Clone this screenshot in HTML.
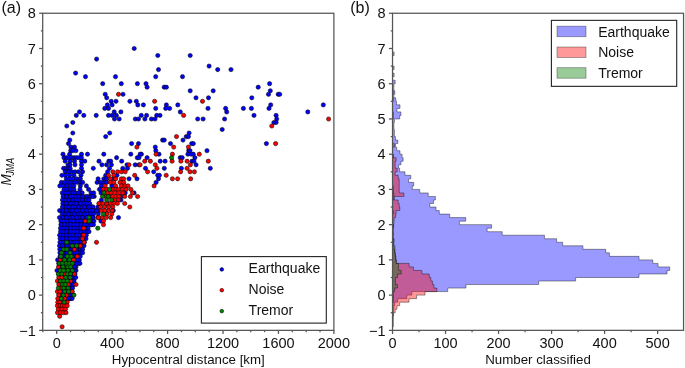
<!DOCTYPE html><html><head><meta charset="utf-8"><style>html,body{margin:0;padding:0;background:#fff;}svg{display:block;will-change:transform;}</style></head><body><svg width="685" height="368" viewBox="0 0 685 368"><rect width="685" height="368" fill="#fff"/><svg x="42.7" y="13.25" width="291.18" height="317.1" viewBox="42.7 13.25 291.18 317.1" overflow="hidden"><g fill="#000010"><rect x="62.3" y="191.04" width="20.0" height="3.8"/><rect x="63.1" y="194.56" width="29.5" height="3.8"/><rect x="62.4" y="198.09" width="26.6" height="3.8"/><rect x="62.8" y="201.61" width="26.9" height="3.8"/><rect x="62.4" y="205.13" width="30.6" height="3.8"/><rect x="59.6" y="208.66" width="37.3" height="3.8"/><rect x="62.1" y="212.18" width="31.4" height="3.8"/><rect x="59.5" y="215.70" width="33.1" height="3.8"/><rect x="60.8" y="219.23" width="33.2" height="3.8"/><rect x="60.9" y="222.75" width="30.1" height="3.8"/><rect x="60.5" y="226.27" width="27.5" height="3.8"/><rect x="60.5" y="229.80" width="28.5" height="3.8"/><rect x="59.6" y="233.32" width="26.7" height="3.8"/><rect x="60.1" y="236.84" width="25.9" height="3.8"/><rect x="60.0" y="240.37" width="24.3" height="3.8"/><rect x="59.5" y="243.89" width="24.5" height="3.8"/><rect x="59.8" y="247.41" width="22.8" height="3.8"/><rect x="59.9" y="250.94" width="22.7" height="3.8"/><rect x="60.0" y="254.46" width="20.2" height="3.8"/><rect x="59.3" y="257.98" width="20.0" height="3.8"/><rect x="58.8" y="261.51" width="20.2" height="3.8"/><rect x="59.2" y="265.03" width="16.8" height="3.8"/><rect x="59.9" y="268.55" width="16.1" height="3.8"/><rect x="58.8" y="272.08" width="16.2" height="3.8"/><rect x="59.6" y="275.60" width="16.2" height="3.8"/><rect x="59.0" y="279.12" width="15.0" height="3.8"/><rect x="59.7" y="282.65" width="14.2" height="3.8"/><rect x="60.0" y="286.17" width="12.0" height="3.8"/><rect x="59.9" y="289.69" width="12.1" height="3.8"/><rect x="59.0" y="293.22" width="14.3" height="3.8"/><rect x="59.4" y="296.74" width="11.6" height="3.8"/><rect x="59.4" y="300.26" width="6.9" height="3.8"/><rect x="59.7" y="303.79" width="6.3" height="3.8"/><rect x="59.4" y="307.31" width="2.6" height="3.8"/></g><g fill="#0000ff" stroke="#000" stroke-width="0.55"><circle cx="134.2" cy="48.5" r="2.12"/><circle cx="157.8" cy="55.5" r="2.12"/><circle cx="96.6" cy="59.1" r="2.12"/><circle cx="158.5" cy="69.6" r="2.12"/><circle cx="75.6" cy="73.1" r="2.12"/><circle cx="85.5" cy="76.7" r="2.12"/><circle cx="115.5" cy="76.7" r="2.12"/><circle cx="155.7" cy="76.7" r="2.12"/><circle cx="182.5" cy="76.7" r="2.12"/><circle cx="102.7" cy="83.7" r="2.12"/><circle cx="121.3" cy="83.7" r="2.12"/><circle cx="137.4" cy="83.7" r="2.12"/><circle cx="146.0" cy="83.7" r="2.12"/><circle cx="147.1" cy="87.2" r="2.12"/><circle cx="164.2" cy="87.2" r="2.12"/><circle cx="166.4" cy="87.2" r="2.12"/><circle cx="190.2" cy="55.5" r="2.12"/><circle cx="209.1" cy="66.1" r="2.12"/><circle cx="217.7" cy="69.6" r="2.12"/><circle cx="231.0" cy="69.6" r="2.12"/><circle cx="258.2" cy="87.2" r="2.12"/><circle cx="269.6" cy="83.7" r="2.12"/><circle cx="270.3" cy="90.8" r="2.12"/><circle cx="190.2" cy="90.8" r="2.12"/><circle cx="213.2" cy="90.8" r="2.12"/><circle cx="105.2" cy="94.3" r="2.12"/><circle cx="123.0" cy="94.3" r="2.12"/><circle cx="106.7" cy="97.8" r="2.12"/><circle cx="111.2" cy="101.3" r="2.12"/><circle cx="116.0" cy="101.3" r="2.12"/><circle cx="107.4" cy="104.9" r="2.12"/><circle cx="112.1" cy="104.9" r="2.12"/><circle cx="129.9" cy="101.3" r="2.12"/><circle cx="136.3" cy="101.3" r="2.12"/><circle cx="137.8" cy="104.9" r="2.12"/><circle cx="143.4" cy="104.9" r="2.12"/><circle cx="155.7" cy="108.4" r="2.12"/><circle cx="166.4" cy="104.9" r="2.12"/><circle cx="165.7" cy="108.4" r="2.12"/><circle cx="169.6" cy="108.4" r="2.12"/><circle cx="177.8" cy="104.9" r="2.12"/><circle cx="104.8" cy="108.4" r="2.12"/><circle cx="108.5" cy="108.4" r="2.12"/><circle cx="114.2" cy="111.9" r="2.12"/><circle cx="120.9" cy="111.9" r="2.12"/><circle cx="108.5" cy="115.4" r="2.12"/><circle cx="112.1" cy="115.4" r="2.12"/><circle cx="116.4" cy="115.4" r="2.12"/><circle cx="114.5" cy="119.0" r="2.12"/><circle cx="119.2" cy="119.0" r="2.12"/><circle cx="135.3" cy="119.0" r="2.12"/><circle cx="138.5" cy="119.0" r="2.12"/><circle cx="141.3" cy="115.4" r="2.12"/><circle cx="144.9" cy="119.0" r="2.12"/><circle cx="146.6" cy="115.4" r="2.12"/><circle cx="151.4" cy="119.0" r="2.12"/><circle cx="155.0" cy="119.0" r="2.12"/><circle cx="156.7" cy="115.4" r="2.12"/><circle cx="160.0" cy="115.4" r="2.12"/><circle cx="180.3" cy="111.9" r="2.12"/><circle cx="79.5" cy="111.9" r="2.12"/><circle cx="76.3" cy="115.4" r="2.12"/><circle cx="83.8" cy="115.4" r="2.12"/><circle cx="96.2" cy="115.4" r="2.12"/><circle cx="196.0" cy="97.8" r="2.12"/><circle cx="208.5" cy="97.8" r="2.12"/><circle cx="208.0" cy="108.4" r="2.12"/><circle cx="225.6" cy="108.4" r="2.12"/><circle cx="226.7" cy="111.9" r="2.12"/><circle cx="243.4" cy="108.4" r="2.12"/><circle cx="251.4" cy="108.4" r="2.12"/><circle cx="251.8" cy="97.8" r="2.12"/><circle cx="254.0" cy="115.4" r="2.12"/><circle cx="197.7" cy="119.0" r="2.12"/><circle cx="203.1" cy="119.0" r="2.12"/><circle cx="224.6" cy="119.0" r="2.12"/><circle cx="268.5" cy="94.3" r="2.12"/><circle cx="278.2" cy="94.3" r="2.12"/><circle cx="279.7" cy="94.3" r="2.12"/><circle cx="270.7" cy="104.9" r="2.12"/><circle cx="269.0" cy="108.4" r="2.12"/><circle cx="276.1" cy="115.4" r="2.12"/><circle cx="276.7" cy="119.0" r="2.12"/><circle cx="273.9" cy="122.5" r="2.12"/><circle cx="276.1" cy="122.5" r="2.12"/><circle cx="307.8" cy="111.9" r="2.12"/><circle cx="323.3" cy="104.9" r="2.12"/><circle cx="266.4" cy="143.6" r="2.12"/><circle cx="109.7" cy="133.0" r="2.12"/><circle cx="105.7" cy="136.6" r="2.12"/><circle cx="103.8" cy="154.2" r="2.12"/><circle cx="116.6" cy="157.7" r="2.12"/><circle cx="222.2" cy="129.5" r="2.12"/><circle cx="189.1" cy="133.0" r="2.12"/><circle cx="186.3" cy="136.6" r="2.12"/><circle cx="188.4" cy="136.6" r="2.12"/><circle cx="183.0" cy="140.1" r="2.12"/><circle cx="162.6" cy="140.1" r="2.12"/><circle cx="164.3" cy="140.1" r="2.12"/><circle cx="170.5" cy="143.6" r="2.12"/><circle cx="191.7" cy="143.6" r="2.12"/><circle cx="193.3" cy="143.6" r="2.12"/><circle cx="131.6" cy="143.6" r="2.12"/><circle cx="138.5" cy="143.6" r="2.12"/><circle cx="155.3" cy="147.1" r="2.12"/><circle cx="155.8" cy="150.7" r="2.12"/><circle cx="188.7" cy="150.7" r="2.12"/><circle cx="207.0" cy="150.7" r="2.12"/><circle cx="141.4" cy="154.2" r="2.12"/><circle cx="137.3" cy="157.7" r="2.12"/><circle cx="147.1" cy="157.7" r="2.12"/><circle cx="187.9" cy="154.2" r="2.12"/><circle cx="191.2" cy="154.2" r="2.12"/><circle cx="193.3" cy="154.2" r="2.12"/><circle cx="194.9" cy="157.7" r="2.12"/><circle cx="180.2" cy="157.7" r="2.12"/><circle cx="182.2" cy="157.7" r="2.12"/><circle cx="130.8" cy="154.2" r="2.12"/><circle cx="160.2" cy="161.2" r="2.12"/><circle cx="165.1" cy="161.2" r="2.12"/><circle cx="196.1" cy="164.8" r="2.12"/><circle cx="145.5" cy="168.3" r="2.12"/><circle cx="164.3" cy="168.3" r="2.12"/><circle cx="181.4" cy="168.3" r="2.12"/><circle cx="210.3" cy="168.3" r="2.12"/><circle cx="153.7" cy="171.8" r="2.12"/><circle cx="157.7" cy="175.3" r="2.12"/><circle cx="158.5" cy="178.8" r="2.12"/><circle cx="192.0" cy="161.2" r="2.12"/><circle cx="159.0" cy="154.2" r="2.12"/><circle cx="140.1" cy="154.2" r="2.12"/><circle cx="139.0" cy="157.7" r="2.12"/><circle cx="159.4" cy="175.3" r="2.12"/><circle cx="190.0" cy="150.7" r="2.12"/><circle cx="193.9" cy="161.2" r="2.12"/><circle cx="156.1" cy="182.4" r="2.12"/><circle cx="134.1" cy="192.9" r="2.12"/><circle cx="99.0" cy="161.2" r="2.12"/><circle cx="108.8" cy="161.2" r="2.12"/><circle cx="110.7" cy="161.2" r="2.12"/><circle cx="121.7" cy="161.2" r="2.12"/><circle cx="101.9" cy="164.8" r="2.12"/><circle cx="106.6" cy="164.8" r="2.12"/><circle cx="111.4" cy="164.8" r="2.12"/><circle cx="127.0" cy="164.8" r="2.12"/><circle cx="135.2" cy="164.8" r="2.12"/><circle cx="139.0" cy="164.8" r="2.12"/><circle cx="93.3" cy="168.3" r="2.12"/><circle cx="109.5" cy="168.3" r="2.12"/><circle cx="122.8" cy="168.3" r="2.12"/><circle cx="127.5" cy="168.3" r="2.12"/><circle cx="107.6" cy="171.8" r="2.12"/><circle cx="105.7" cy="175.3" r="2.12"/><circle cx="117.0" cy="175.3" r="2.12"/><circle cx="98.1" cy="178.8" r="2.12"/><circle cx="103.8" cy="178.8" r="2.12"/><circle cx="106.6" cy="178.8" r="2.12"/><circle cx="113.8" cy="178.8" r="2.12"/><circle cx="129.0" cy="178.8" r="2.12"/><circle cx="137.0" cy="178.8" r="2.12"/><circle cx="97.1" cy="182.4" r="2.12"/><circle cx="100.5" cy="182.4" r="2.12"/><circle cx="103.8" cy="182.4" r="2.12"/><circle cx="106.6" cy="182.4" r="2.12"/><circle cx="101.4" cy="185.9" r="2.12"/><circle cx="111.9" cy="185.9" r="2.12"/><circle cx="99.5" cy="189.4" r="2.12"/><circle cx="101.0" cy="189.4" r="2.12"/><circle cx="91.0" cy="192.9" r="2.12"/><circle cx="93.7" cy="192.9" r="2.12"/><circle cx="101.0" cy="192.9" r="2.12"/><circle cx="125.2" cy="192.9" r="2.12"/><circle cx="94.2" cy="196.5" r="2.12"/><circle cx="121.0" cy="196.5" r="2.12"/><circle cx="101.4" cy="200.0" r="2.12"/><circle cx="121.0" cy="200.0" r="2.12"/><circle cx="89.0" cy="203.5" r="2.12"/><circle cx="107.6" cy="203.5" r="2.12"/><circle cx="89.5" cy="207.0" r="2.12"/><circle cx="92.6" cy="207.0" r="2.12"/><circle cx="95.7" cy="210.6" r="2.12"/><circle cx="98.3" cy="210.6" r="2.12"/><circle cx="113.3" cy="210.6" r="2.12"/><circle cx="93.2" cy="214.1" r="2.12"/><circle cx="98.3" cy="214.1" r="2.12"/><circle cx="93.2" cy="217.6" r="2.12"/><circle cx="118.5" cy="217.6" r="2.12"/><circle cx="100.9" cy="221.1" r="2.12"/><circle cx="72.8" cy="122.5" r="2.12"/><circle cx="66.8" cy="126.0" r="2.12"/><circle cx="72.8" cy="133.0" r="2.12"/><circle cx="69.8" cy="140.1" r="2.12"/><circle cx="68.5" cy="143.6" r="2.12"/><circle cx="70.9" cy="147.1" r="2.12"/><circle cx="74.5" cy="147.1" r="2.12"/><circle cx="70.7" cy="150.7" r="2.12"/><circle cx="72.8" cy="150.7" r="2.12"/><circle cx="75.9" cy="150.7" r="2.12"/><circle cx="63.0" cy="154.2" r="2.12"/><circle cx="69.6" cy="154.2" r="2.12"/><circle cx="81.5" cy="154.2" r="2.12"/><circle cx="87.5" cy="154.2" r="2.12"/><circle cx="64.0" cy="157.7" r="2.12"/><circle cx="66.5" cy="157.7" r="2.12"/><circle cx="69.0" cy="157.7" r="2.12"/><circle cx="71.5" cy="157.7" r="2.12"/><circle cx="74.0" cy="157.7" r="2.12"/><circle cx="76.5" cy="157.7" r="2.12"/><circle cx="79.0" cy="157.7" r="2.12"/><circle cx="81.5" cy="157.7" r="2.12"/><circle cx="65.2" cy="161.2" r="2.12"/><circle cx="70.1" cy="161.2" r="2.12"/><circle cx="74.5" cy="161.2" r="2.12"/><circle cx="81.5" cy="161.2" r="2.12"/><circle cx="84.8" cy="161.2" r="2.12"/><circle cx="68.0" cy="164.8" r="2.12"/><circle cx="70.0" cy="164.8" r="2.12"/><circle cx="75.0" cy="164.8" r="2.12"/><circle cx="81.5" cy="164.8" r="2.12"/><circle cx="63.6" cy="168.3" r="2.12"/><circle cx="66.0" cy="168.3" r="2.12"/><circle cx="68.5" cy="168.3" r="2.12"/><circle cx="70.1" cy="168.3" r="2.12"/><circle cx="81.5" cy="168.3" r="2.12"/><circle cx="65.2" cy="171.8" r="2.12"/><circle cx="68.5" cy="171.8" r="2.12"/><circle cx="71.8" cy="171.8" r="2.12"/><circle cx="75.0" cy="171.8" r="2.12"/><circle cx="78.5" cy="171.8" r="2.12"/><circle cx="82.6" cy="171.8" r="2.12"/><circle cx="62.0" cy="175.3" r="2.12"/><circle cx="65.5" cy="175.3" r="2.12"/><circle cx="69.6" cy="175.3" r="2.12"/><circle cx="73.9" cy="175.3" r="2.12"/><circle cx="81.0" cy="175.3" r="2.12"/><circle cx="66.3" cy="178.8" r="2.12"/><circle cx="69.8" cy="178.8" r="2.12"/><circle cx="73.3" cy="178.8" r="2.12"/><circle cx="76.8" cy="178.8" r="2.12"/><circle cx="80.4" cy="178.8" r="2.12"/><circle cx="61.4" cy="182.4" r="2.12"/><circle cx="64.6" cy="182.4" r="2.12"/><circle cx="67.8" cy="182.4" r="2.12"/><circle cx="71.0" cy="182.4" r="2.12"/><circle cx="74.2" cy="182.4" r="2.12"/><circle cx="77.4" cy="182.4" r="2.12"/><circle cx="80.6" cy="182.4" r="2.12"/><circle cx="82.6" cy="182.4" r="2.12"/><circle cx="59.8" cy="185.9" r="2.12"/><circle cx="63.3" cy="185.9" r="2.12"/><circle cx="66.8" cy="185.9" r="2.12"/><circle cx="70.4" cy="185.9" r="2.12"/><circle cx="73.9" cy="185.9" r="2.12"/><circle cx="80.4" cy="185.9" r="2.12"/><circle cx="86.4" cy="185.9" r="2.12"/><circle cx="64.0" cy="189.4" r="2.12"/><circle cx="67.3" cy="189.4" r="2.12"/><circle cx="70.6" cy="189.4" r="2.12"/><circle cx="74.0" cy="189.4" r="2.12"/><circle cx="80.0" cy="189.4" r="2.12"/><circle cx="88.6" cy="189.4" r="2.12"/><circle cx="62.3" cy="192.9" r="2.12"/><circle cx="65.7" cy="192.9" r="2.12"/><circle cx="69.4" cy="192.9" r="2.12"/><circle cx="72.6" cy="192.9" r="2.12"/><circle cx="75.5" cy="192.9" r="2.12"/><circle cx="78.3" cy="192.9" r="2.12"/><circle cx="82.2" cy="192.9" r="2.12"/><circle cx="63.1" cy="196.5" r="2.12"/><circle cx="66.8" cy="196.5" r="2.12"/><circle cx="70.4" cy="196.5" r="2.12"/><circle cx="73.4" cy="196.5" r="2.12"/><circle cx="76.0" cy="196.5" r="2.12"/><circle cx="79.3" cy="196.5" r="2.12"/><circle cx="82.8" cy="196.5" r="2.12"/><circle cx="86.6" cy="196.5" r="2.12"/><circle cx="89.9" cy="196.5" r="2.12"/><circle cx="92.5" cy="196.5" r="2.12"/><circle cx="62.4" cy="200.0" r="2.12"/><circle cx="65.8" cy="200.0" r="2.12"/><circle cx="68.9" cy="200.0" r="2.12"/><circle cx="72.9" cy="200.0" r="2.12"/><circle cx="75.9" cy="200.0" r="2.12"/><circle cx="79.6" cy="200.0" r="2.12"/><circle cx="82.7" cy="200.0" r="2.12"/><circle cx="86.4" cy="200.0" r="2.12"/><circle cx="89.0" cy="200.0" r="2.12"/><circle cx="62.8" cy="203.5" r="2.12"/><circle cx="66.1" cy="203.5" r="2.12"/><circle cx="70.2" cy="203.5" r="2.12"/><circle cx="73.8" cy="203.5" r="2.12"/><circle cx="76.9" cy="203.5" r="2.12"/><circle cx="80.3" cy="203.5" r="2.12"/><circle cx="83.9" cy="203.5" r="2.12"/><circle cx="87.3" cy="203.5" r="2.12"/><circle cx="89.7" cy="203.5" r="2.12"/><circle cx="62.4" cy="207.0" r="2.12"/><circle cx="66.2" cy="207.0" r="2.12"/><circle cx="69.3" cy="207.0" r="2.12"/><circle cx="72.9" cy="207.0" r="2.12"/><circle cx="75.7" cy="207.0" r="2.12"/><circle cx="78.6" cy="207.0" r="2.12"/><circle cx="82.1" cy="207.0" r="2.12"/><circle cx="84.8" cy="207.0" r="2.12"/><circle cx="88.6" cy="207.0" r="2.12"/><circle cx="91.4" cy="207.0" r="2.12"/><circle cx="93.0" cy="207.0" r="2.12"/><circle cx="59.6" cy="210.6" r="2.12"/><circle cx="62.8" cy="210.6" r="2.12"/><circle cx="66.2" cy="210.6" r="2.12"/><circle cx="70.4" cy="210.6" r="2.12"/><circle cx="72.9" cy="210.6" r="2.12"/><circle cx="76.1" cy="210.6" r="2.12"/><circle cx="79.8" cy="210.6" r="2.12"/><circle cx="82.5" cy="210.6" r="2.12"/><circle cx="86.2" cy="210.6" r="2.12"/><circle cx="90.1" cy="210.6" r="2.12"/><circle cx="93.3" cy="210.6" r="2.12"/><circle cx="96.8" cy="210.6" r="2.12"/><circle cx="62.1" cy="214.1" r="2.12"/><circle cx="65.9" cy="214.1" r="2.12"/><circle cx="68.9" cy="214.1" r="2.12"/><circle cx="72.1" cy="214.1" r="2.12"/><circle cx="74.7" cy="214.1" r="2.12"/><circle cx="78.0" cy="214.1" r="2.12"/><circle cx="81.1" cy="214.1" r="2.12"/><circle cx="84.2" cy="214.1" r="2.12"/><circle cx="87.5" cy="214.1" r="2.12"/><circle cx="90.9" cy="214.1" r="2.12"/><circle cx="93.5" cy="214.1" r="2.12"/><circle cx="59.5" cy="217.6" r="2.12"/><circle cx="62.9" cy="217.6" r="2.12"/><circle cx="66.4" cy="217.6" r="2.12"/><circle cx="69.9" cy="217.6" r="2.12"/><circle cx="72.9" cy="217.6" r="2.12"/><circle cx="76.2" cy="217.6" r="2.12"/><circle cx="79.8" cy="217.6" r="2.12"/><circle cx="82.3" cy="217.6" r="2.12"/><circle cx="86.5" cy="217.6" r="2.12"/><circle cx="89.6" cy="217.6" r="2.12"/><circle cx="92.6" cy="217.6" r="2.12"/><circle cx="60.8" cy="221.1" r="2.12"/><circle cx="63.8" cy="221.1" r="2.12"/><circle cx="67.3" cy="221.1" r="2.12"/><circle cx="70.7" cy="221.1" r="2.12"/><circle cx="73.5" cy="221.1" r="2.12"/><circle cx="77.8" cy="221.1" r="2.12"/><circle cx="81.3" cy="221.1" r="2.12"/><circle cx="84.9" cy="221.1" r="2.12"/><circle cx="87.9" cy="221.1" r="2.12"/><circle cx="90.8" cy="221.1" r="2.12"/><circle cx="94.0" cy="221.1" r="2.12"/><circle cx="60.9" cy="224.7" r="2.12"/><circle cx="64.3" cy="224.7" r="2.12"/><circle cx="68.1" cy="224.7" r="2.12"/><circle cx="70.8" cy="224.7" r="2.12"/><circle cx="73.9" cy="224.7" r="2.12"/><circle cx="77.4" cy="224.7" r="2.12"/><circle cx="81.3" cy="224.7" r="2.12"/><circle cx="84.6" cy="224.7" r="2.12"/><circle cx="87.8" cy="224.7" r="2.12"/><circle cx="91.0" cy="224.7" r="2.12"/><circle cx="60.5" cy="228.2" r="2.12"/><circle cx="63.8" cy="228.2" r="2.12"/><circle cx="67.2" cy="228.2" r="2.12"/><circle cx="70.5" cy="228.2" r="2.12"/><circle cx="73.9" cy="228.2" r="2.12"/><circle cx="77.7" cy="228.2" r="2.12"/><circle cx="80.7" cy="228.2" r="2.12"/><circle cx="83.7" cy="228.2" r="2.12"/><circle cx="88.0" cy="228.2" r="2.12"/><circle cx="60.5" cy="231.7" r="2.12"/><circle cx="63.6" cy="231.7" r="2.12"/><circle cx="66.8" cy="231.7" r="2.12"/><circle cx="70.5" cy="231.7" r="2.12"/><circle cx="73.7" cy="231.7" r="2.12"/><circle cx="77.4" cy="231.7" r="2.12"/><circle cx="81.4" cy="231.7" r="2.12"/><circle cx="84.1" cy="231.7" r="2.12"/><circle cx="87.3" cy="231.7" r="2.12"/><circle cx="89.0" cy="231.7" r="2.12"/><circle cx="59.6" cy="235.2" r="2.12"/><circle cx="63.1" cy="235.2" r="2.12"/><circle cx="66.1" cy="235.2" r="2.12"/><circle cx="69.9" cy="235.2" r="2.12"/><circle cx="73.2" cy="235.2" r="2.12"/><circle cx="76.3" cy="235.2" r="2.12"/><circle cx="79.3" cy="235.2" r="2.12"/><circle cx="82.8" cy="235.2" r="2.12"/><circle cx="86.3" cy="235.2" r="2.12"/><circle cx="60.1" cy="238.7" r="2.12"/><circle cx="63.2" cy="238.7" r="2.12"/><circle cx="66.8" cy="238.7" r="2.12"/><circle cx="70.1" cy="238.7" r="2.12"/><circle cx="73.6" cy="238.7" r="2.12"/><circle cx="77.3" cy="238.7" r="2.12"/><circle cx="80.5" cy="238.7" r="2.12"/><circle cx="84.4" cy="238.7" r="2.12"/><circle cx="86.0" cy="238.7" r="2.12"/><circle cx="60.0" cy="242.3" r="2.12"/><circle cx="63.6" cy="242.3" r="2.12"/><circle cx="66.8" cy="242.3" r="2.12"/><circle cx="70.5" cy="242.3" r="2.12"/><circle cx="74.0" cy="242.3" r="2.12"/><circle cx="77.3" cy="242.3" r="2.12"/><circle cx="81.3" cy="242.3" r="2.12"/><circle cx="84.3" cy="242.3" r="2.12"/><circle cx="59.5" cy="245.8" r="2.12"/><circle cx="62.7" cy="245.8" r="2.12"/><circle cx="66.8" cy="245.8" r="2.12"/><circle cx="70.0" cy="245.8" r="2.12"/><circle cx="74.0" cy="245.8" r="2.12"/><circle cx="77.3" cy="245.8" r="2.12"/><circle cx="80.5" cy="245.8" r="2.12"/><circle cx="84.0" cy="245.8" r="2.12"/><circle cx="59.8" cy="249.3" r="2.12"/><circle cx="63.9" cy="249.3" r="2.12"/><circle cx="66.7" cy="249.3" r="2.12"/><circle cx="70.0" cy="249.3" r="2.12"/><circle cx="73.2" cy="249.3" r="2.12"/><circle cx="76.5" cy="249.3" r="2.12"/><circle cx="80.3" cy="249.3" r="2.12"/><circle cx="82.6" cy="249.3" r="2.12"/><circle cx="59.9" cy="252.8" r="2.12"/><circle cx="62.8" cy="252.8" r="2.12"/><circle cx="67.2" cy="252.8" r="2.12"/><circle cx="70.4" cy="252.8" r="2.12"/><circle cx="73.6" cy="252.8" r="2.12"/><circle cx="77.4" cy="252.8" r="2.12"/><circle cx="80.6" cy="252.8" r="2.12"/><circle cx="82.6" cy="252.8" r="2.12"/><circle cx="60.0" cy="256.4" r="2.12"/><circle cx="63.6" cy="256.4" r="2.12"/><circle cx="66.9" cy="256.4" r="2.12"/><circle cx="69.4" cy="256.4" r="2.12"/><circle cx="73.3" cy="256.4" r="2.12"/><circle cx="76.8" cy="256.4" r="2.12"/><circle cx="80.2" cy="256.4" r="2.12"/><circle cx="59.3" cy="259.9" r="2.12"/><circle cx="63.3" cy="259.9" r="2.12"/><circle cx="66.7" cy="259.9" r="2.12"/><circle cx="70.2" cy="259.9" r="2.12"/><circle cx="73.5" cy="259.9" r="2.12"/><circle cx="76.4" cy="259.9" r="2.12"/><circle cx="79.3" cy="259.9" r="2.12"/><circle cx="58.8" cy="263.4" r="2.12"/><circle cx="62.1" cy="263.4" r="2.12"/><circle cx="65.7" cy="263.4" r="2.12"/><circle cx="69.0" cy="263.4" r="2.12"/><circle cx="72.2" cy="263.4" r="2.12"/><circle cx="75.4" cy="263.4" r="2.12"/><circle cx="79.0" cy="263.4" r="2.12"/><circle cx="59.2" cy="266.9" r="2.12"/><circle cx="63.2" cy="266.9" r="2.12"/><circle cx="66.2" cy="266.9" r="2.12"/><circle cx="69.2" cy="266.9" r="2.12"/><circle cx="72.8" cy="266.9" r="2.12"/><circle cx="76.0" cy="266.9" r="2.12"/><circle cx="59.9" cy="270.5" r="2.12"/><circle cx="63.1" cy="270.5" r="2.12"/><circle cx="66.5" cy="270.5" r="2.12"/><circle cx="69.6" cy="270.5" r="2.12"/><circle cx="72.5" cy="270.5" r="2.12"/><circle cx="76.0" cy="270.5" r="2.12"/><circle cx="58.8" cy="274.0" r="2.12"/><circle cx="63.1" cy="274.0" r="2.12"/><circle cx="66.2" cy="274.0" r="2.12"/><circle cx="69.4" cy="274.0" r="2.12"/><circle cx="72.6" cy="274.0" r="2.12"/><circle cx="75.0" cy="274.0" r="2.12"/><circle cx="59.6" cy="277.5" r="2.12"/><circle cx="63.0" cy="277.5" r="2.12"/><circle cx="66.6" cy="277.5" r="2.12"/><circle cx="69.3" cy="277.5" r="2.12"/><circle cx="72.3" cy="277.5" r="2.12"/><circle cx="75.8" cy="277.5" r="2.12"/><circle cx="59.0" cy="281.0" r="2.12"/><circle cx="62.3" cy="281.0" r="2.12"/><circle cx="65.6" cy="281.0" r="2.12"/><circle cx="68.8" cy="281.0" r="2.12"/><circle cx="72.2" cy="281.0" r="2.12"/><circle cx="74.0" cy="281.0" r="2.12"/><circle cx="59.7" cy="284.5" r="2.12"/><circle cx="63.5" cy="284.5" r="2.12"/><circle cx="66.3" cy="284.5" r="2.12"/><circle cx="70.0" cy="284.5" r="2.12"/><circle cx="74.0" cy="284.5" r="2.12"/><circle cx="60.0" cy="288.1" r="2.12"/><circle cx="63.4" cy="288.1" r="2.12"/><circle cx="66.5" cy="288.1" r="2.12"/><circle cx="70.2" cy="288.1" r="2.12"/><circle cx="72.0" cy="288.1" r="2.12"/><circle cx="59.9" cy="291.6" r="2.12"/><circle cx="63.4" cy="291.6" r="2.12"/><circle cx="66.8" cy="291.6" r="2.12"/><circle cx="69.5" cy="291.6" r="2.12"/><circle cx="72.0" cy="291.6" r="2.12"/><circle cx="59.0" cy="295.1" r="2.12"/><circle cx="63.0" cy="295.1" r="2.12"/><circle cx="66.6" cy="295.1" r="2.12"/><circle cx="70.0" cy="295.1" r="2.12"/><circle cx="73.2" cy="295.1" r="2.12"/><circle cx="59.4" cy="298.6" r="2.12"/><circle cx="62.6" cy="298.6" r="2.12"/><circle cx="66.3" cy="298.6" r="2.12"/><circle cx="69.4" cy="298.6" r="2.12"/><circle cx="71.0" cy="298.6" r="2.12"/><circle cx="59.4" cy="302.2" r="2.12"/><circle cx="62.9" cy="302.2" r="2.12"/><circle cx="66.2" cy="302.2" r="2.12"/><circle cx="59.7" cy="305.7" r="2.12"/><circle cx="62.8" cy="305.7" r="2.12"/><circle cx="66.0" cy="305.7" r="2.12"/><circle cx="59.4" cy="309.2" r="2.12"/><circle cx="62.0" cy="309.2" r="2.12"/><circle cx="93.5" cy="224.7" r="2.12"/><circle cx="97.8" cy="207.0" r="2.12"/><circle cx="91.3" cy="224.7" r="2.12"/><circle cx="57.6" cy="259.9" r="2.12"/><circle cx="78.0" cy="259.9" r="2.12"/><circle cx="76.6" cy="263.4" r="2.12"/><circle cx="79.9" cy="263.4" r="2.12"/><circle cx="74.5" cy="266.9" r="2.12"/><circle cx="57.0" cy="270.5" r="2.12"/><circle cx="75.0" cy="270.5" r="2.12"/><circle cx="73.5" cy="281.0" r="2.12"/><circle cx="71.1" cy="284.5" r="2.12"/><circle cx="73.0" cy="284.5" r="2.12"/><circle cx="72.5" cy="288.1" r="2.12"/><circle cx="72.1" cy="298.6" r="2.12"/><circle cx="68.5" cy="298.6" r="2.12"/></g><g fill="#ff0000" stroke="#000" stroke-width="0.55"><circle cx="118.5" cy="94.3" r="2.12"/><circle cx="154.6" cy="101.3" r="2.12"/><circle cx="183.6" cy="115.4" r="2.12"/><circle cx="202.5" cy="101.3" r="2.12"/><circle cx="271.8" cy="126.0" r="2.12"/><circle cx="275.6" cy="143.6" r="2.12"/><circle cx="328.6" cy="119.0" r="2.12"/><circle cx="176.5" cy="136.6" r="2.12"/><circle cx="136.9" cy="147.1" r="2.12"/><circle cx="173.7" cy="147.1" r="2.12"/><circle cx="188.4" cy="147.1" r="2.12"/><circle cx="156.1" cy="154.2" r="2.12"/><circle cx="172.4" cy="154.2" r="2.12"/><circle cx="199.3" cy="154.2" r="2.12"/><circle cx="144.7" cy="161.2" r="2.12"/><circle cx="150.4" cy="161.2" r="2.12"/><circle cx="172.1" cy="161.2" r="2.12"/><circle cx="180.9" cy="161.2" r="2.12"/><circle cx="187.1" cy="161.2" r="2.12"/><circle cx="140.1" cy="164.8" r="2.12"/><circle cx="155.3" cy="164.8" r="2.12"/><circle cx="190.4" cy="164.8" r="2.12"/><circle cx="208.3" cy="161.2" r="2.12"/><circle cx="156.9" cy="168.3" r="2.12"/><circle cx="187.1" cy="168.3" r="2.12"/><circle cx="147.6" cy="171.8" r="2.12"/><circle cx="180.6" cy="171.8" r="2.12"/><circle cx="190.0" cy="171.8" r="2.12"/><circle cx="194.4" cy="171.8" r="2.12"/><circle cx="166.2" cy="175.3" r="2.12"/><circle cx="172.4" cy="178.8" r="2.12"/><circle cx="177.6" cy="178.8" r="2.12"/><circle cx="190.7" cy="178.8" r="2.12"/><circle cx="154.1" cy="185.9" r="2.12"/><circle cx="129.0" cy="164.8" r="2.12"/><circle cx="112.8" cy="171.8" r="2.12"/><circle cx="117.6" cy="171.8" r="2.12"/><circle cx="121.4" cy="171.8" r="2.12"/><circle cx="125.2" cy="171.8" r="2.12"/><circle cx="108.5" cy="175.3" r="2.12"/><circle cx="113.8" cy="175.3" r="2.12"/><circle cx="134.7" cy="175.3" r="2.12"/><circle cx="110.4" cy="178.8" r="2.12"/><circle cx="115.7" cy="178.8" r="2.12"/><circle cx="121.4" cy="178.8" r="2.12"/><circle cx="123.7" cy="178.8" r="2.12"/><circle cx="110.4" cy="182.4" r="2.12"/><circle cx="113.8" cy="182.4" r="2.12"/><circle cx="120.0" cy="182.4" r="2.12"/><circle cx="123.7" cy="182.4" r="2.12"/><circle cx="105.2" cy="185.9" r="2.12"/><circle cx="115.7" cy="185.9" r="2.12"/><circle cx="121.4" cy="185.9" r="2.12"/><circle cx="125.2" cy="185.9" r="2.12"/><circle cx="128.0" cy="185.9" r="2.12"/><circle cx="103.3" cy="189.4" r="2.12"/><circle cx="107.0" cy="189.4" r="2.12"/><circle cx="112.8" cy="189.4" r="2.12"/><circle cx="116.0" cy="189.4" r="2.12"/><circle cx="118.5" cy="189.4" r="2.12"/><circle cx="122.3" cy="189.4" r="2.12"/><circle cx="126.1" cy="189.4" r="2.12"/><circle cx="130.9" cy="189.4" r="2.12"/><circle cx="103.5" cy="192.9" r="2.12"/><circle cx="107.4" cy="192.9" r="2.12"/><circle cx="111.3" cy="192.9" r="2.12"/><circle cx="115.2" cy="192.9" r="2.12"/><circle cx="119.1" cy="192.9" r="2.12"/><circle cx="123.0" cy="192.9" r="2.12"/><circle cx="132.4" cy="192.9" r="2.12"/><circle cx="105.6" cy="196.5" r="2.12"/><circle cx="109.0" cy="196.5" r="2.12"/><circle cx="112.4" cy="196.5" r="2.12"/><circle cx="115.8" cy="196.5" r="2.12"/><circle cx="119.0" cy="196.5" r="2.12"/><circle cx="124.7" cy="196.5" r="2.12"/><circle cx="130.4" cy="196.5" r="2.12"/><circle cx="137.6" cy="196.5" r="2.12"/><circle cx="114.9" cy="200.0" r="2.12"/><circle cx="118.5" cy="200.0" r="2.12"/><circle cx="99.4" cy="203.5" r="2.12"/><circle cx="103.0" cy="203.5" r="2.12"/><circle cx="106.6" cy="203.5" r="2.12"/><circle cx="110.2" cy="203.5" r="2.12"/><circle cx="113.8" cy="203.5" r="2.12"/><circle cx="117.4" cy="203.5" r="2.12"/><circle cx="124.7" cy="203.5" r="2.12"/><circle cx="100.4" cy="207.0" r="2.12"/><circle cx="104.5" cy="207.0" r="2.12"/><circle cx="108.6" cy="207.0" r="2.12"/><circle cx="112.8" cy="207.0" r="2.12"/><circle cx="129.8" cy="207.0" r="2.12"/><circle cx="101.4" cy="210.6" r="2.12"/><circle cx="105.0" cy="210.6" r="2.12"/><circle cx="108.6" cy="210.6" r="2.12"/><circle cx="112.3" cy="210.6" r="2.12"/><circle cx="107.0" cy="214.1" r="2.12"/><circle cx="111.8" cy="214.1" r="2.12"/><circle cx="97.8" cy="217.6" r="2.12"/><circle cx="102.0" cy="217.6" r="2.12"/><circle cx="106.3" cy="217.6" r="2.12"/><circle cx="110.7" cy="217.6" r="2.12"/><circle cx="103.5" cy="221.1" r="2.12"/><circle cx="103.5" cy="224.7" r="2.12"/><circle cx="98.4" cy="217.6" r="2.12"/><circle cx="85.3" cy="221.1" r="2.12"/><circle cx="83.7" cy="228.2" r="2.12"/><circle cx="83.7" cy="235.2" r="2.12"/><circle cx="82.6" cy="238.7" r="2.12"/><circle cx="84.2" cy="242.3" r="2.12"/><circle cx="96.5" cy="242.3" r="2.12"/><circle cx="80.4" cy="245.8" r="2.12"/><circle cx="74.5" cy="249.3" r="2.12"/><circle cx="77.2" cy="256.4" r="2.12"/><circle cx="60.3" cy="259.9" r="2.12"/><circle cx="73.4" cy="259.9" r="2.12"/><circle cx="98.9" cy="203.5" r="2.12"/><circle cx="58.5" cy="266.9" r="2.12"/><circle cx="74.3" cy="274.0" r="2.12"/><circle cx="65.0" cy="274.0" r="2.12"/><circle cx="58.8" cy="277.5" r="2.12"/><circle cx="61.8" cy="277.5" r="2.12"/><circle cx="57.4" cy="281.0" r="2.12"/><circle cx="70.6" cy="281.0" r="2.12"/><circle cx="58.8" cy="284.5" r="2.12"/><circle cx="68.1" cy="284.5" r="2.12"/><circle cx="76.0" cy="284.5" r="2.12"/><circle cx="61.0" cy="288.1" r="2.12"/><circle cx="57.4" cy="291.6" r="2.12"/><circle cx="59.8" cy="291.6" r="2.12"/><circle cx="72.1" cy="291.6" r="2.12"/><circle cx="58.8" cy="295.1" r="2.12"/><circle cx="66.7" cy="295.1" r="2.12"/><circle cx="57.8" cy="298.6" r="2.12"/><circle cx="64.7" cy="298.6" r="2.12"/><circle cx="57.8" cy="302.2" r="2.12"/><circle cx="59.8" cy="302.2" r="2.12"/><circle cx="67.2" cy="302.2" r="2.12"/><circle cx="57.4" cy="305.7" r="2.12"/><circle cx="60.0" cy="305.7" r="2.12"/><circle cx="62.3" cy="305.7" r="2.12"/><circle cx="64.7" cy="305.7" r="2.12"/><circle cx="67.2" cy="305.7" r="2.12"/><circle cx="58.3" cy="309.2" r="2.12"/><circle cx="61.8" cy="309.2" r="2.12"/><circle cx="65.4" cy="309.2" r="2.12"/><circle cx="57.5" cy="312.7" r="2.12"/><circle cx="60.5" cy="312.7" r="2.12"/><circle cx="63.5" cy="312.7" r="2.12"/><circle cx="66.0" cy="312.7" r="2.12"/><circle cx="59.7" cy="316.3" r="2.12"/><circle cx="62.1" cy="326.8" r="2.12"/></g><g fill="#008000" stroke="#000" stroke-width="0.55"><circle cx="171.6" cy="157.7" r="2.12"/><circle cx="109.5" cy="189.4" r="2.12"/><circle cx="104.0" cy="192.9" r="2.12"/><circle cx="102.5" cy="196.5" r="2.12"/><circle cx="108.1" cy="196.5" r="2.12"/><circle cx="106.6" cy="200.0" r="2.12"/><circle cx="111.6" cy="200.0" r="2.12"/><circle cx="103.5" cy="214.1" r="2.12"/><circle cx="97.8" cy="228.2" r="2.12"/><circle cx="89.1" cy="217.6" r="2.12"/><circle cx="89.1" cy="221.1" r="2.12"/><circle cx="66.8" cy="242.3" r="2.12"/><circle cx="72.3" cy="245.8" r="2.12"/><circle cx="76.6" cy="245.8" r="2.12"/><circle cx="63.6" cy="249.3" r="2.12"/><circle cx="66.8" cy="249.3" r="2.12"/><circle cx="61.4" cy="252.8" r="2.12"/><circle cx="70.1" cy="252.8" r="2.12"/><circle cx="60.9" cy="256.4" r="2.12"/><circle cx="67.4" cy="256.4" r="2.12"/><circle cx="71.2" cy="256.4" r="2.12"/><circle cx="64.1" cy="259.9" r="2.12"/><circle cx="69.6" cy="259.9" r="2.12"/><circle cx="64.7" cy="259.9" r="2.12"/><circle cx="59.2" cy="263.4" r="2.12"/><circle cx="62.5" cy="263.4" r="2.12"/><circle cx="66.3" cy="263.4" r="2.12"/><circle cx="69.3" cy="263.4" r="2.12"/><circle cx="72.3" cy="263.4" r="2.12"/><circle cx="63.0" cy="266.9" r="2.12"/><circle cx="67.9" cy="266.9" r="2.12"/><circle cx="70.7" cy="266.9" r="2.12"/><circle cx="60.3" cy="270.5" r="2.12"/><circle cx="63.6" cy="270.5" r="2.12"/><circle cx="67.9" cy="270.5" r="2.12"/><circle cx="72.3" cy="270.5" r="2.12"/><circle cx="58.3" cy="274.0" r="2.12"/><circle cx="61.8" cy="274.0" r="2.12"/><circle cx="67.6" cy="274.0" r="2.12"/><circle cx="70.6" cy="274.0" r="2.12"/><circle cx="65.7" cy="277.5" r="2.12"/><circle cx="70.1" cy="277.5" r="2.12"/><circle cx="60.3" cy="281.0" r="2.12"/><circle cx="63.7" cy="281.0" r="2.12"/><circle cx="67.2" cy="281.0" r="2.12"/><circle cx="62.3" cy="284.5" r="2.12"/><circle cx="65.2" cy="284.5" r="2.12"/><circle cx="58.3" cy="288.1" r="2.12"/><circle cx="63.7" cy="288.1" r="2.12"/><circle cx="68.1" cy="288.1" r="2.12"/><circle cx="64.7" cy="291.6" r="2.12"/><circle cx="68.6" cy="291.6" r="2.12"/><circle cx="63.2" cy="295.1" r="2.12"/><circle cx="74.0" cy="295.1" r="2.12"/><circle cx="61.3" cy="298.6" r="2.12"/><circle cx="64.2" cy="302.2" r="2.12"/></g></svg><path d="M392.53,316.26 L393.06,316.26 L393.06,312.73 L393.33,312.73 L393.33,309.21 L393.86,309.21 L393.86,305.69 L394.70,305.69 L394.70,302.16 L397.87,302.16 L397.87,298.64 L406.80,298.64 L406.80,295.12 L411.82,295.12 L411.82,291.59 L447.75,291.59 L447.75,288.07 L465.98,288.07 L465.98,284.55 L538.64,284.55 L538.64,281.02 L575.63,281.02 L575.63,277.50 L639.03,277.50 L639.03,273.98 L667.04,273.98 L667.04,270.45 L669.68,270.45 L669.68,266.93 L658.06,266.93 L658.06,263.41 L652.77,263.41 L652.77,259.88 L639.03,259.88 L639.03,256.36 L609.44,256.36 L609.44,252.84 L605.75,252.84 L605.75,249.31 L582.92,249.31 L582.92,245.79 L562.68,245.79 L562.68,242.27 L556.60,242.27 L556.60,238.74 L544.45,238.74 L544.45,235.22 L502.18,235.22 L502.18,231.70 L487.12,231.70 L487.12,228.17 L491.61,228.17 L491.61,224.65 L459.38,224.65 L459.38,221.13 L465.72,221.13 L465.72,217.60 L449.71,217.60 L449.71,214.08 L439.30,214.08 L439.30,210.56 L436.02,210.56 L436.02,207.03 L429.79,207.03 L429.79,203.51 L433.49,203.51 L433.49,199.99 L435.39,199.99 L435.39,196.46 L428.20,196.46 L428.20,192.94 L419.75,192.94 L419.75,189.42 L412.35,189.42 L412.35,185.89 L413.72,185.89 L413.72,182.37 L408.65,182.37 L408.65,178.85 L410.77,178.85 L410.77,175.32 L404.95,175.32 L404.95,171.80 L399.67,171.80 L399.67,168.28 L398.61,168.28 L398.61,164.75 L400.99,164.75 L400.99,161.23 L403.16,161.23 L403.16,157.71 L402.10,157.71 L402.10,154.18 L399.99,154.18 L399.99,150.66 L396.76,150.66 L396.76,147.14 L395.44,147.14 L395.44,143.61 L397.82,143.61 L397.82,140.09 L395.44,140.09 L395.44,136.57 L394.39,136.57 L394.39,133.04 L394.39,133.04 L394.39,129.52 L393.86,129.52 L393.86,126.00 L393.86,126.00 L393.86,122.47 L394.39,122.47 L394.39,118.95 L399.67,118.95 L399.67,115.43 L400.99,115.43 L400.99,111.90 L396.92,111.90 L396.92,108.38 L399.99,108.38 L399.99,104.86 L396.50,104.86 L396.50,101.33 L395.81,101.33 L395.81,97.81 L393.86,97.81 L393.86,94.29 L394.81,94.29 L394.81,90.76 L393.86,90.76 L393.86,87.24 L393.86,87.24 L393.86,83.72 L395.18,83.72 L395.18,80.19 L392.53,80.19 L392.53,76.67 L394.12,76.67 L394.12,73.15 L392.53,73.15 L392.53,69.62 L394.12,69.62 L394.12,66.10 L392.53,66.10 L392.53,62.58 L392.53,62.58 L392.53,59.05 L392.53,59.05 L392.53,55.53 L394.12,55.53 L394.12,52.01 L392.53,52.01 Z" fill="#0000ff" fill-opacity="0.4" stroke="#000" stroke-opacity="0.5" stroke-width="0.8"/><path d="M392.53,326.83 L393.33,326.83 L393.33,323.30 L393.33,323.30 L393.33,319.78 L393.33,319.78 L393.33,316.26 L393.59,316.26 L393.59,312.73 L395.18,312.73 L395.18,309.21 L397.03,309.21 L397.03,305.69 L399.67,305.69 L399.67,302.16 L409.02,302.16 L409.02,298.64 L416.58,298.64 L416.58,295.12 L425.03,295.12 L425.03,291.59 L436.92,291.59 L436.92,288.07 L434.02,288.07 L434.02,284.55 L432.43,284.55 L432.43,281.02 L430.84,281.02 L430.84,277.50 L429.26,277.50 L429.26,273.98 L421.86,273.98 L421.86,270.45 L413.41,270.45 L413.41,266.93 L409.18,266.93 L409.18,263.41 L396.50,263.41 L396.50,259.88 L395.97,259.88 L395.97,256.36 L395.44,256.36 L395.44,252.84 L394.91,252.84 L394.91,249.31 L393.33,249.31 L393.33,245.79 L393.33,245.79 L393.33,242.27 L393.86,242.27 L393.86,238.74 L393.33,238.74 L393.33,235.22 L393.59,235.22 L393.59,231.70 L393.33,231.70 L393.33,228.17 L393.59,228.17 L393.59,224.65 L393.86,224.65 L393.86,221.13 L394.12,221.13 L394.12,217.60 L395.71,217.60 L395.71,214.08 L396.13,214.08 L396.13,210.56 L399.77,210.56 L399.77,207.03 L399.19,207.03 L399.19,203.51 L398.19,203.51 L398.19,199.99 L394.12,199.99 L394.12,196.46 L403.90,196.46 L403.90,192.94 L399.19,192.94 L399.19,189.42 L399.19,189.42 L399.19,185.89 L399.19,185.89 L399.19,182.37 L399.19,182.37 L399.19,178.85 L398.19,178.85 L398.19,175.32 L395.12,175.32 L395.12,171.80 L397.19,171.80 L397.19,168.28 L395.12,168.28 L395.12,164.75 L395.12,164.75 L395.12,161.23 L396.13,161.23 L396.13,157.71 L393.12,157.71 L393.12,154.18 L392.53,154.18 L392.53,150.66 L392.53,150.66 L392.53,147.14 L394.39,147.14 L394.39,143.61 L392.53,143.61 L392.53,140.09 L392.53,140.09 L392.53,136.57 L392.53,136.57 L392.53,133.04 L392.53,133.04 L392.53,129.52 L392.53,129.52 L392.53,126.00 L392.53,126.00 L392.53,122.47 L392.53,122.47 L392.53,118.95 L393.33,118.95 L393.33,115.43 L393.33,115.43 L393.33,111.90 L392.53,111.90 L392.53,108.38 L392.53,108.38 L392.53,104.86 L392.53,104.86 L392.53,101.33 L393.33,101.33 L393.33,97.81 L392.53,97.81 L392.53,94.29 L393.33,94.29 L393.33,90.76 L392.53,90.76 Z" fill="#ff0000" fill-opacity="0.4" stroke="#000" stroke-opacity="0.5" stroke-width="0.8"/><path d="M392.53,302.16 L393.33,302.16 L393.33,298.64 L393.33,298.64 L393.33,295.12 L393.33,295.12 L393.33,291.59 L394.65,291.59 L394.65,288.07 L397.40,288.07 L397.40,284.55 L395.44,284.55 L395.44,281.02 L395.44,281.02 L395.44,277.50 L397.56,277.50 L397.56,273.98 L401.25,273.98 L401.25,270.45 L398.61,270.45 L398.61,266.93 L398.61,266.93 L398.61,263.41 L395.97,263.41 L395.97,259.88 L395.44,259.88 L395.44,256.36 L395.18,256.36 L395.18,252.84 L394.65,252.84 L394.65,249.31 L394.91,249.31 L394.91,245.79 L393.86,245.79 L393.86,242.27 L393.86,242.27 L393.86,238.74 L392.53,238.74 L392.53,235.22 L392.53,235.22 L392.53,231.70 L392.53,231.70 L392.53,228.17 L393.33,228.17 L393.33,224.65 L392.53,224.65 L392.53,221.13 L392.53,221.13 L392.53,217.60 L392.53,217.60 L392.53,214.08 L393.33,214.08 L393.33,210.56 L392.53,210.56 L392.53,207.03 L392.53,207.03 L392.53,203.51 L392.53,203.51 L392.53,199.99 L393.86,199.99 L393.86,196.46 L393.86,196.46 L393.86,192.94 L393.33,192.94 L393.33,189.42 L393.33,189.42 L393.33,185.89 L392.53,185.89 L392.53,182.37 L392.53,182.37 L392.53,178.85 L392.53,178.85 L392.53,175.32 L392.53,175.32 L392.53,171.80 L392.53,171.80 L392.53,168.28 L392.53,168.28 L392.53,164.75 L392.53,164.75 L392.53,161.23 L392.53,161.23 L392.53,157.71 L393.33,157.71 L393.33,154.18 L392.53,154.18 Z" fill="#008000" fill-opacity="0.4" stroke="#000" stroke-opacity="0.5" stroke-width="0.8"/><g stroke="#555" stroke-width="1.25" fill="none"><rect x="42.7" y="13.25" width="291.18" height="317.10"/><rect x="392.53" y="13.25" width="291.02" height="317.10"/><line x1="39.10" y1="330.35" x2="42.70" y2="330.35"/><line x1="39.10" y1="295.12" x2="42.70" y2="295.12"/><line x1="39.10" y1="259.88" x2="42.70" y2="259.88"/><line x1="39.10" y1="224.65" x2="42.70" y2="224.65"/><line x1="39.10" y1="189.42" x2="42.70" y2="189.42"/><line x1="39.10" y1="154.18" x2="42.70" y2="154.18"/><line x1="39.10" y1="118.95" x2="42.70" y2="118.95"/><line x1="39.10" y1="83.72" x2="42.70" y2="83.72"/><line x1="39.10" y1="48.48" x2="42.70" y2="48.48"/><line x1="39.10" y1="13.25" x2="42.70" y2="13.25"/><line x1="40.90" y1="312.73" x2="42.70" y2="312.73"/><line x1="40.90" y1="277.50" x2="42.70" y2="277.50"/><line x1="40.90" y1="242.27" x2="42.70" y2="242.27"/><line x1="40.90" y1="207.03" x2="42.70" y2="207.03"/><line x1="40.90" y1="171.80" x2="42.70" y2="171.80"/><line x1="40.90" y1="136.57" x2="42.70" y2="136.57"/><line x1="40.90" y1="101.33" x2="42.70" y2="101.33"/><line x1="40.90" y1="66.10" x2="42.70" y2="66.10"/><line x1="40.90" y1="30.87" x2="42.70" y2="30.87"/><line x1="56.73" y1="330.35" x2="56.73" y2="333.95"/><line x1="112.16" y1="330.35" x2="112.16" y2="333.95"/><line x1="167.59" y1="330.35" x2="167.59" y2="333.95"/><line x1="223.02" y1="330.35" x2="223.02" y2="333.95"/><line x1="278.45" y1="330.35" x2="278.45" y2="333.95"/><line x1="333.88" y1="330.35" x2="333.88" y2="333.95"/><line x1="42.87" y1="330.35" x2="42.87" y2="332.15"/><line x1="70.59" y1="330.35" x2="70.59" y2="332.15"/><line x1="84.44" y1="330.35" x2="84.44" y2="332.15"/><line x1="98.30" y1="330.35" x2="98.30" y2="332.15"/><line x1="126.02" y1="330.35" x2="126.02" y2="332.15"/><line x1="139.88" y1="330.35" x2="139.88" y2="332.15"/><line x1="153.73" y1="330.35" x2="153.73" y2="332.15"/><line x1="181.45" y1="330.35" x2="181.45" y2="332.15"/><line x1="195.31" y1="330.35" x2="195.31" y2="332.15"/><line x1="209.16" y1="330.35" x2="209.16" y2="332.15"/><line x1="236.88" y1="330.35" x2="236.88" y2="332.15"/><line x1="250.73" y1="330.35" x2="250.73" y2="332.15"/><line x1="264.59" y1="330.35" x2="264.59" y2="332.15"/><line x1="292.31" y1="330.35" x2="292.31" y2="332.15"/><line x1="306.17" y1="330.35" x2="306.17" y2="332.15"/><line x1="320.02" y1="330.35" x2="320.02" y2="332.15"/><line x1="388.93" y1="330.35" x2="392.53" y2="330.35"/><line x1="388.93" y1="295.12" x2="392.53" y2="295.12"/><line x1="388.93" y1="259.88" x2="392.53" y2="259.88"/><line x1="388.93" y1="224.65" x2="392.53" y2="224.65"/><line x1="388.93" y1="189.42" x2="392.53" y2="189.42"/><line x1="388.93" y1="154.18" x2="392.53" y2="154.18"/><line x1="388.93" y1="118.95" x2="392.53" y2="118.95"/><line x1="388.93" y1="83.72" x2="392.53" y2="83.72"/><line x1="388.93" y1="48.48" x2="392.53" y2="48.48"/><line x1="388.93" y1="13.25" x2="392.53" y2="13.25"/><line x1="390.73" y1="312.73" x2="392.53" y2="312.73"/><line x1="390.73" y1="277.50" x2="392.53" y2="277.50"/><line x1="390.73" y1="242.27" x2="392.53" y2="242.27"/><line x1="390.73" y1="207.03" x2="392.53" y2="207.03"/><line x1="390.73" y1="171.80" x2="392.53" y2="171.80"/><line x1="390.73" y1="136.57" x2="392.53" y2="136.57"/><line x1="390.73" y1="101.33" x2="392.53" y2="101.33"/><line x1="390.73" y1="66.10" x2="392.53" y2="66.10"/><line x1="390.73" y1="30.87" x2="392.53" y2="30.87"/><line x1="392.53" y1="330.35" x2="392.53" y2="333.95"/><line x1="445.55" y1="330.35" x2="445.55" y2="333.95"/><line x1="498.57" y1="330.35" x2="498.57" y2="333.95"/><line x1="551.59" y1="330.35" x2="551.59" y2="333.95"/><line x1="604.61" y1="330.35" x2="604.61" y2="333.95"/><line x1="657.63" y1="330.35" x2="657.63" y2="333.95"/><line x1="419.04" y1="330.35" x2="419.04" y2="332.15"/><line x1="472.06" y1="330.35" x2="472.06" y2="332.15"/><line x1="525.08" y1="330.35" x2="525.08" y2="332.15"/><line x1="578.10" y1="330.35" x2="578.10" y2="332.15"/><line x1="631.12" y1="330.35" x2="631.12" y2="332.15"/></g><g font-family="Liberation Sans, sans-serif" font-size="14.0" fill="#111"><text x="35.80" y="335.55" text-anchor="end" font-size="14.5">−1</text><text x="35.80" y="300.32" text-anchor="end" font-size="14.5">0</text><text x="35.80" y="265.08" text-anchor="end" font-size="14.5">1</text><text x="35.80" y="229.85" text-anchor="end" font-size="14.5">2</text><text x="35.80" y="194.62" text-anchor="end" font-size="14.5">3</text><text x="35.80" y="159.38" text-anchor="end" font-size="14.5">4</text><text x="35.80" y="124.15" text-anchor="end" font-size="14.5">5</text><text x="35.80" y="88.92" text-anchor="end" font-size="14.5">6</text><text x="35.80" y="53.68" text-anchor="end" font-size="14.5">7</text><text x="35.80" y="18.45" text-anchor="end" font-size="14.5">8</text><text x="385.63" y="335.55" text-anchor="end" font-size="14.5">−1</text><text x="385.63" y="300.32" text-anchor="end" font-size="14.5">0</text><text x="385.63" y="265.08" text-anchor="end" font-size="14.5">1</text><text x="385.63" y="229.85" text-anchor="end" font-size="14.5">2</text><text x="385.63" y="194.62" text-anchor="end" font-size="14.5">3</text><text x="385.63" y="159.38" text-anchor="end" font-size="14.5">4</text><text x="385.63" y="124.15" text-anchor="end" font-size="14.5">5</text><text x="385.63" y="88.92" text-anchor="end" font-size="14.5">6</text><text x="385.63" y="53.68" text-anchor="end" font-size="14.5">7</text><text x="385.63" y="18.45" text-anchor="end" font-size="14.5">8</text><text x="56.73" y="347.80" text-anchor="middle" font-size="14.5">0</text><text x="112.16" y="347.80" text-anchor="middle" font-size="14.5">400</text><text x="167.59" y="347.80" text-anchor="middle" font-size="14.5">800</text><text x="223.02" y="347.80" text-anchor="middle" font-size="14.5">1200</text><text x="278.45" y="347.80" text-anchor="middle" font-size="14.5">1600</text><text x="333.88" y="347.80" text-anchor="middle" font-size="14.5">2000</text><text x="392.53" y="347.80" text-anchor="middle" font-size="14.5">0</text><text x="445.55" y="347.80" text-anchor="middle" font-size="14.5">100</text><text x="498.57" y="347.80" text-anchor="middle" font-size="14.5">200</text><text x="551.59" y="347.80" text-anchor="middle" font-size="14.5">300</text><text x="604.61" y="347.80" text-anchor="middle" font-size="14.5">400</text><text x="657.63" y="347.80" text-anchor="middle" font-size="14.5">500</text></g><g font-family="Liberation Sans, sans-serif" font-size="13.3" fill="#111"><text x="188.29" y="363.6" text-anchor="middle">Hypocentral distance [km]</text><text x="538.04" y="363.6" text-anchor="middle">Number classified</text></g><g font-family="Liberation Sans, sans-serif" font-size="16" fill="#111"><text x="1.5" y="13.3">(a)</text><text x="350.2" y="13.3">(b)</text></g><g transform="translate(10.8,0) rotate(-90)" font-family="Liberation Sans, sans-serif" fill="#111" font-style="italic"><text x="-185.6" y="0" font-size="14.3" textLength="11.2" lengthAdjust="spacingAndGlyphs">M</text><text x="-175.6" y="3.6" font-size="10.2" textLength="17.6" lengthAdjust="spacingAndGlyphs">JMA</text></g><rect x="201.4" y="256.6" width="124.9" height="66.5" fill="#fff" stroke="#222" stroke-width="1.1"/><circle cx="221.8" cy="269.4" r="1.85" fill="#0000ff" stroke="#000" stroke-width="0.5"/><text x="248.6" y="273.3" font-family="Liberation Sans, sans-serif" font-size="14.0" fill="#111">Earthquake</text><circle cx="221.8" cy="290.2" r="1.85" fill="#ff0000" stroke="#000" stroke-width="0.5"/><text x="248.6" y="294.1" font-family="Liberation Sans, sans-serif" font-size="14.0" fill="#111">Noise</text><circle cx="221.8" cy="311.1" r="1.85" fill="#008000" stroke="#000" stroke-width="0.5"/><text x="248.6" y="315.0" font-family="Liberation Sans, sans-serif" font-size="14.0" fill="#111">Tremor</text><rect x="551.4" y="20.35" width="125.3" height="66.0" fill="#fff" stroke="#222" stroke-width="1.1"/><rect x="557" y="26.2" width="29.0" height="10.5" fill="#0000ff" fill-opacity="0.4" stroke="#000" stroke-opacity="0.4" stroke-width="0.8"/><text x="598.2" y="36.5" font-family="Liberation Sans, sans-serif" font-size="14.0" fill="#111">Earthquake</text><rect x="557" y="47.0" width="29.0" height="10.5" fill="#ff0000" fill-opacity="0.4" stroke="#000" stroke-opacity="0.4" stroke-width="0.8"/><text x="598.2" y="57.2" font-family="Liberation Sans, sans-serif" font-size="14.0" fill="#111">Noise</text><rect x="557" y="67.7" width="29.0" height="10.5" fill="#008000" fill-opacity="0.4" stroke="#000" stroke-opacity="0.4" stroke-width="0.8"/><text x="598.2" y="78.0" font-family="Liberation Sans, sans-serif" font-size="14.0" fill="#111">Tremor</text></svg></body></html>
